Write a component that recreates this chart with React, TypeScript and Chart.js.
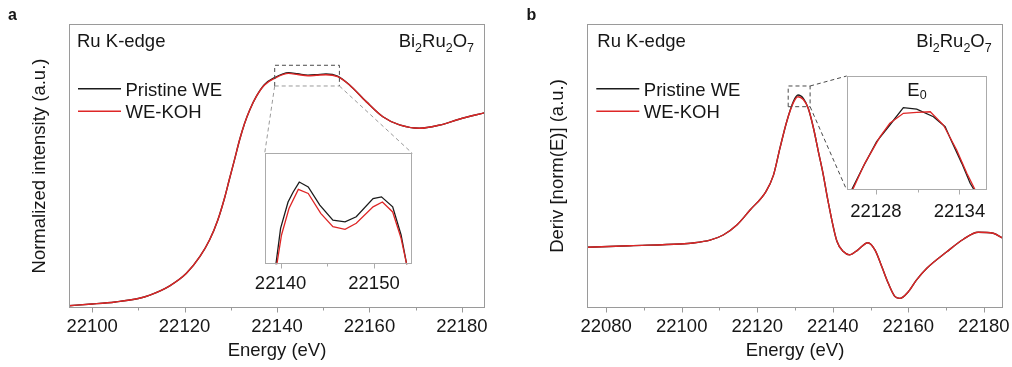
import React, { useEffect, useRef } from 'react';
import { Chart, registerables } from 'chart.js';

Chart.register(...registerables);

const FONT = '"Liberation Sans", Arial, Helvetica, sans-serif';
const TEXT = '#161616';
const BLACK = '#1c1c1c';
const RED = '#de2626';
const FRAME = '#9a9a9a';
const INSET_FRAME = '#ababab';

// ---------- shared labels ----------
const SERIES = ['Pristine WE', 'WE-KOH'];
const EDGE_LABEL = 'Ru K-edge';
const COMPOUND: [string, boolean][] = [['Bi', false], ['2', true], ['Ru', false], ['2', true], ['O', false], ['7', true]];
const X_TITLE = 'Energy (eV)';

// ---------- panel a: normalized XANES ----------
const XANES_E = [22095, 22100, 22105, 22110, 22112.5, 22116.8, 22120.4, 22123.3, 22125.4, 22127.2, 22128.7, 22129.7, 22130.8, 22131.9, 22133.0, 22134.1, 22135.5, 22137.3, 22139.5, 22142.5, 22144.5, 22146.7, 22148.5, 22150.6, 22153.1, 22155.7, 22159.3, 22162.9, 22166.5, 22170.8, 22175, 22179.4, 22185];
const XANES_PRISTINE = [0.012, 0.021, 0.032, 0.050, 0.068, 0.117, 0.183, 0.271, 0.359, 0.465, 0.585, 0.680, 0.782, 0.887, 0.976, 1.046, 1.116, 1.180, 1.217, 1.243, 1.237, 1.230, 1.232, 1.236, 1.225, 1.178, 1.090, 1.010, 0.967, 0.949, 0.965, 0.997, 1.032];
const XANES_KOH = [0.012, 0.021, 0.032, 0.050, 0.068, 0.117, 0.183, 0.271, 0.359, 0.465, 0.585, 0.680, 0.782, 0.887, 0.976, 1.046, 1.116, 1.178, 1.213, 1.239, 1.233, 1.227, 1.229, 1.232, 1.222, 1.178, 1.090, 1.010, 0.967, 0.949, 0.965, 0.997, 1.032];
const XANES_TICK_LABELS = [22100, 22120, 22140, 22160, 22180];
const XANES_MINOR_TICKS = [22110, 22130, 22150, 22170];
const XANES_Y_TITLE = 'Normalized intensity (a.u.)';

// inset a (white-line region)
const XANES_ZOOM_E_PRISTINE = [22139.2, 22139.5, 22140.0, 22140.8, 22141.35, 22142.0, 22142.96, 22144.2, 22145.6, 22146.9, 22148.1, 22149.9, 22150.8, 22152.0, 22152.9, 22153.5, 22153.8];
const XANES_ZOOM_PRISTINE = [1.195, 1.2100, 1.2226, 1.2319, 1.2354, 1.2389, 1.2372, 1.2308, 1.2255, 1.2249, 1.2267, 1.2331, 1.2337, 1.2302, 1.2203, 1.2100, 1.195];
const XANES_ZOOM_E_KOH = [22139.3, 22139.6, 22140.1, 22140.9, 22141.9, 22142.96, 22144.3, 22145.6, 22146.9, 22148.1, 22149.9, 22150.9, 22152.0, 22152.9, 22153.5, 22153.8];
const XANES_ZOOM_KOH = [1.195, 1.2100, 1.2203, 1.2296, 1.2363, 1.2349, 1.2279, 1.2232, 1.2223, 1.2244, 1.2302, 1.2319, 1.2284, 1.2191, 1.2100, 1.195];
const XANES_ZOOM_TICK_LABELS = [22140, 22150];
const XANES_ZOOM_MINOR_TICKS = [22145];

// ---------- panel b: first derivative ----------
const DERIV_E = [22075, 22086.3, 22099.5, 22103, 22107.5, 22111, 22114.6, 22118.1, 22122.3, 22124.3, 22126.0, 22127.8, 22129.6, 22130.8, 22132.2, 22133.5, 22134.9, 22136.2, 22137.5, 22138.7, 22141.1, 22142.9, 22144.4, 22146.6, 22149.3, 22151.2, 22153.0, 22154.7, 22156.5, 22157.8, 22160.0, 22162.2, 22164.9, 22170.2, 22174.6, 22178.5, 22182.5, 22185];
const DERIV_PRISTINE = [0.2137, 0.2194, 0.2254, 0.229, 0.239, 0.257, 0.292, 0.345, 0.410, 0.468, 0.562, 0.656, 0.728, 0.750, 0.738, 0.703, 0.633, 0.550, 0.468, 0.380, 0.235, 0.198, 0.187, 0.204, 0.230, 0.204, 0.145, 0.087, 0.040, 0.034, 0.057, 0.099, 0.140, 0.198, 0.242, 0.2665, 0.263, 0.246];
const DERIV_KOH = [0.2137, 0.2194, 0.2254, 0.229, 0.239, 0.257, 0.292, 0.345, 0.410, 0.468, 0.562, 0.656, 0.724, 0.744, 0.734, 0.703, 0.633, 0.550, 0.468, 0.380, 0.235, 0.198, 0.187, 0.204, 0.230, 0.204, 0.145, 0.087, 0.040, 0.034, 0.057, 0.099, 0.140, 0.198, 0.242, 0.2665, 0.263, 0.246];
const DERIV_TICK_LABELS = [22080, 22100, 22120, 22140, 22160, 22180];
const DERIV_MINOR_TICKS = [22090, 22110, 22130, 22150, 22170];
const DERIV_Y_TITLE = 'Deriv [norm(E)] (a.u.)';

// inset b (E0 region)
const DERIV_ZOOM_E_PRISTINE = [22126.0, 22126.25, 22127.09, 22128.05, 22129.0, 22129.97, 22130.93, 22132.13, 22132.97, 22133.45, 22134.17, 22134.77, 22135.06, 22135.3];
const DERIV_ZOOM_PRISTINE = [0.69, 0.70, 0.7164, 0.7339, 0.7456, 0.7578, 0.7568, 0.7514, 0.7444, 0.7339, 0.7187, 0.7047, 0.70, 0.69];
const DERIV_ZOOM_E_KOH = [22126.1, 22126.32, 22127.2, 22128.3, 22129.0, 22129.97, 22130.93, 22131.9, 22132.85, 22133.8, 22134.53, 22135.13, 22135.4];
const DERIV_ZOOM_KOH = [0.69, 0.70, 0.7187, 0.7375, 0.7468, 0.7538, 0.7545, 0.7549, 0.7456, 0.7281, 0.7117, 0.70, 0.69];
const DERIV_ZOOM_TICK_LABELS = [22128, 22134];
const DERIV_ZOOM_MINOR_TICKS = [22131];
const E0_LABEL = ['E', '0'];

// ---------- layout ----------
const W = 1012;
const H = 367;
const FS = 18.5;
const SUB = 12.5;

type Area = { left: number; top: number; right: number; bottom: number };
type Box = { x0: number; x1: number; y0: number; y1: number };

const toXY = (xs: number[], ys: number[]) => xs.map((x, i) => ({ x, y: ys[i] }));

const setTicks = (major: number[], minor: number[]) => (s: any) => {
  s.ticks = [...major, ...minor].sort((a, b) => a - b).map((v) => ({ value: v }));
};

const framePlugin = (color: string, major: number, minor: number) => ({
  id: 'frame',
  afterDraw(chart: any) {
    const { ctx, chartArea: a, scales } = chart;
    const x = scales.x;
    ctx.save();
    ctx.strokeStyle = color;
    ctx.lineWidth = 1;
    const l = Math.round(a.left) + 0.5, r = Math.round(a.right) - 0.5;
    const t = Math.round(a.top) + 0.5, b = Math.round(a.bottom) - 0.5;
    ctx.strokeRect(l, t, r - l, b - t);
    ctx.beginPath();
    for (const tk of x.ticks) {
      const px = Math.round(x.getPixelForValue(tk.value)) + 0.5;
      const len = tk.label !== '' ? major : minor;
      ctx.moveTo(px, b);
      ctx.lineTo(px, b + len);
    }
    ctx.stroke();
    ctx.restore();
  },
});

function drawCompound(ctx: CanvasRenderingContext2D, right: number, base: number) {
  const widths = COMPOUND.map(([s, sub]) => {
    ctx.font = `${sub ? SUB : FS}px ${FONT}`;
    return ctx.measureText(s).width;
  });
  let x = right - widths.reduce((p, c) => p + c, 0);
  COMPOUND.forEach(([s, sub], i) => {
    ctx.font = `${sub ? SUB : FS}px ${FONT}`;
    ctx.fillText(s, x, sub ? base + 5 : base);
    x += widths[i];
  });
}

type MainPanel = {
  canvasLeft: number;
  canvasWidth: number;
  area: Area;
  xMin: number;
  xMax: number;
  yMin: number;
  yMax: number;
  e: number[];
  pristine: number[];
  koh: number[];
  tickLabels: number[];
  minorTicks: number[];
  yTitle: string;
  yTitleCenter: number;
  letter: string;
  letterX: number;
  textDx: number;
  zoom: Box;
  inset: Area;
  links: [string, string][];
  boxColor: string;
  boxBottomColor: string;
  linkColor: string;
};

const corner = (c: string, r: { l: number; t: number; r: number; b: number }) => ({
  x: c[0] === 'l' ? r.l : r.r,
  y: c[1] === 't' ? r.t : r.b,
});

function mainConfig(p: MainPanel): any {
  const { area, canvasLeft, canvasWidth } = p;
  const annot = {
    id: 'annot',
    afterDraw(chart: any) {
      const { ctx, chartArea: a, scales } = chart;
      const { x, y } = scales;
      ctx.save();
      ctx.fillStyle = TEXT;
      ctx.textAlign = 'left';
      ctx.textBaseline = 'alphabetic';
      ctx.font = `${FS}px ${FONT}`;
      ctx.fillText(EDGE_LABEL, a.left + p.textDx, a.top + 22.7);
      drawCompound(ctx, a.right - 11, a.top + 22.7);
      // legend
      ctx.font = `${FS}px ${FONT}`;
      chart.data.datasets.forEach((ds: any, i: number) => {
        const ly = a.top + 64.8 + i * 22.5;
        ctx.strokeStyle = ds.borderColor;
        ctx.lineWidth = 1.4;
        ctx.beginPath();
        ctx.moveTo(a.left + 9, ly);
        ctx.lineTo(a.left + 52, ly);
        ctx.stroke();
        ctx.fillText(ds.label, a.left + 56.5, a.top + 71.8 + i * 22.5);
      });
      // panel letter
      ctx.font = `bold 16px ${FONT}`;
      ctx.fillText(p.letter, p.letterX - canvasLeft, 20);
      // zoom window
      const bx = {
        l: x.getPixelForValue(p.zoom.x0),
        r: x.getPixelForValue(p.zoom.x1),
        t: y.getPixelForValue(p.zoom.y1),
        b: y.getPixelForValue(p.zoom.y0),
      };
      const ins = { l: p.inset.left - canvasLeft, r: p.inset.right - canvasLeft, t: p.inset.top, b: p.inset.bottom };
      ctx.lineWidth = 1;
      ctx.setLineDash([4, 3]);
      ctx.strokeStyle = p.boxColor;
      ctx.beginPath();
      ctx.moveTo(bx.l, bx.b);
      ctx.lineTo(bx.l, bx.t);
      ctx.lineTo(bx.r, bx.t);
      ctx.lineTo(bx.r, bx.b);
      ctx.stroke();
      ctx.strokeStyle = p.boxBottomColor;
      ctx.beginPath();
      ctx.moveTo(bx.l, bx.b);
      ctx.lineTo(bx.r, bx.b);
      ctx.stroke();
      ctx.strokeStyle = p.linkColor;
      ctx.beginPath();
      for (const [c1, c2] of p.links) {
        const s = corner(c1, bx);
        const e = corner(c2, ins);
        ctx.moveTo(s.x, s.y);
        ctx.lineTo(e.x, e.y);
      }
      ctx.stroke();
      ctx.restore();
    },
  };
  const font = { family: FONT, size: FS };
  return {
    type: 'line',
    data: {
      datasets: [
        { label: SERIES[0], data: toXY(p.e, p.pristine), borderColor: BLACK, borderWidth: 1.4, pointRadius: 0, cubicInterpolationMode: 'monotone', order: 2 },
        { label: SERIES[1], data: toXY(p.e, p.koh), borderColor: RED, borderWidth: 1.4, pointRadius: 0, cubicInterpolationMode: 'monotone', order: 1 },
      ],
    },
    options: {
      responsive: false,
      maintainAspectRatio: false,
      animation: false,
      devicePixelRatio: 1,
      events: [],
      layout: { padding: { left: 0, top: area.top, right: canvasLeft + canvasWidth - area.right, bottom: 0 } },
      plugins: { legend: { display: false }, tooltip: { enabled: false } },
      scales: {
        x: {
          type: 'linear',
          min: p.xMin,
          max: p.xMax,
          grid: { display: false, drawTicks: false },
          border: { display: false },
          afterBuildTicks: setTicks(p.tickLabels, p.minorTicks),
          ticks: {
            autoSkip: false,
            maxRotation: 0,
            padding: 8,
            color: TEXT,
            font,
            callback: (v: number) => (p.tickLabels.includes(v) ? String(v) : ''),
          },
          title: { display: true, text: X_TITLE, color: TEXT, font, padding: { top: 0, bottom: 5 } },
          afterFit: (s: any) => {
            s.height = H - area.bottom;
            s.paddingLeft = 0;
            s.paddingRight = 0;
          },
        },
        y: {
          type: 'linear',
          min: p.yMin,
          max: p.yMax,
          grid: { display: false, drawTicks: false },
          border: { display: false },
          ticks: { display: false },
          title: { display: true, text: p.yTitle, color: TEXT, font, padding: { top: p.yTitleCenter - canvasLeft - (FS * 1.2) / 2, bottom: 0 } },
          afterFit: (s: any) => {
            s.width = area.left - canvasLeft;
            s.paddingTop = 0;
            s.paddingBottom = 0;
          },
        },
      },
    },
    plugins: [framePlugin(FRAME, 5, 3), annot],
  };
}

type InsetPanel = {
  canvas: Area;
  area: Area;
  xMin: number;
  xMax: number;
  yMin: number;
  yMax: number;
  ePristine: number[];
  pristine: number[];
  eKoh: number[];
  koh: number[];
  tickLabels: number[];
  minorTicks: number[];
  tickPad: number;
  title?: string[];
};

function insetConfig(p: InsetPanel): any {
  const { canvas, area } = p;
  const titlePlugin = {
    id: 'insetTitle',
    afterDraw(chart: any) {
      if (!p.title) return;
      const { ctx, chartArea: a } = chart;
      ctx.save();
      ctx.fillStyle = TEXT;
      ctx.textBaseline = 'alphabetic';
      ctx.textAlign = 'left';
      ctx.font = `${FS}px ${FONT}`;
      const w1 = ctx.measureText(p.title[0]).width;
      ctx.font = `${SUB}px ${FONT}`;
      const w2 = ctx.measureText(p.title[1]).width;
      const x0 = (a.left + a.right) / 2 - (w1 + w2) / 2;
      ctx.font = `${FS}px ${FONT}`;
      ctx.fillText(p.title[0], x0, a.top + 20);
      ctx.font = `${SUB}px ${FONT}`;
      ctx.fillText(p.title[1], x0 + w1, a.top + 23.3);
      ctx.restore();
    },
  };
  return {
    type: 'line',
    data: {
      datasets: [
        { label: SERIES[0], data: toXY(p.ePristine, p.pristine), borderColor: BLACK, borderWidth: 1.3, pointRadius: 0, tension: 0, order: 2 },
        { label: SERIES[1], data: toXY(p.eKoh, p.koh), borderColor: RED, borderWidth: 1.3, pointRadius: 0, tension: 0, order: 1 },
      ],
    },
    options: {
      responsive: false,
      maintainAspectRatio: false,
      animation: false,
      devicePixelRatio: 1,
      events: [],
      layout: {
        padding: {
          left: area.left - canvas.left,
          top: area.top - canvas.top,
          right: canvas.right - area.right,
          bottom: 0,
        },
      },
      plugins: { legend: { display: false }, tooltip: { enabled: false } },
      scales: {
        x: {
          type: 'linear',
          min: p.xMin,
          max: p.xMax,
          grid: { display: false, drawTicks: false },
          border: { display: false },
          afterBuildTicks: setTicks(p.tickLabels, p.minorTicks),
          ticks: {
            autoSkip: false,
            maxRotation: 0,
            padding: p.tickPad,
            color: TEXT,
            font: { family: FONT, size: FS },
            callback: (v: number) => (p.tickLabels.includes(v) ? String(v) : ''),
          },
          afterFit: (s: any) => {
            s.height = canvas.bottom - area.bottom;
            s.paddingLeft = 0;
            s.paddingRight = 0;
          },
        },
        y: { type: 'linear', display: false, min: p.yMin, max: p.yMax },
      },
    },
    plugins: [framePlugin(INSET_FRAME, 5, 3), titlePlugin],
  };
}

const INSET_A: Area = { left: 264.7, top: 153.3, right: 412.3, bottom: 264.3 };
const INSET_B: Area = { left: 846.7, top: 76, right: 987.3, bottom: 190 };

const PANEL_A: MainPanel = {
  canvasLeft: 0,
  canvasWidth: 500,
  area: { left: 69, top: 24, right: 485, bottom: 308 },
  xMin: 22095,
  xMax: 22185,
  yMin: 0,
  yMax: 1.5,
  e: XANES_E,
  pristine: XANES_PRISTINE,
  koh: XANES_KOH,
  tickLabels: XANES_TICK_LABELS,
  minorTicks: XANES_MINOR_TICKS,
  yTitle: XANES_Y_TITLE,
  yTitleCenter: 40,
  letter: 'a',
  letterX: 8,
  textDx: 8,
  zoom: { x0: 22139.5, x1: 22153.5, y0: 1.1726, y1: 1.282 },
  inset: INSET_A,
  links: [['lb', 'lt'], ['rb', 'rt']],
  boxColor: '#4a4a4a',
  boxBottomColor: '#9a9a9a',
  linkColor: '#9a9a9a',
};

const PANEL_B: MainPanel = {
  canvasLeft: 506,
  canvasWidth: 506,
  area: { left: 587.3, top: 24, right: 1002.7, bottom: 308 },
  xMin: 22075,
  xMax: 22185,
  yMin: 0,
  yMax: 1,
  e: DERIV_E,
  pristine: DERIV_PRISTINE,
  koh: DERIV_KOH,
  tickLabels: DERIV_TICK_LABELS,
  minorTicks: DERIV_MINOR_TICKS,
  yTitle: DERIV_Y_TITLE,
  yTitleCenter: 557.6,
  letter: 'b',
  letterX: 526.5,
  textDx: 10,
  zoom: { x0: 22128.2, x1: 22134.0, y0: 0.7088, y1: 0.7817 },
  inset: INSET_B,
  links: [['rt', 'lt'], ['rb', 'lb']],
  boxColor: '#4a4a4a',
  boxBottomColor: '#4a4a4a',
  linkColor: '#4a4a4a',
};

const ZOOM_A: InsetPanel = {
  canvas: { left: 248, top: 145, right: 425, bottom: 300 },
  area: INSET_A,
  xMin: 22138.3,
  xMax: 22154.1,
  yMin: 1.21,
  yMax: 1.249,
  ePristine: XANES_ZOOM_E_PRISTINE,
  pristine: XANES_ZOOM_PRISTINE,
  eKoh: XANES_ZOOM_E_KOH,
  koh: XANES_ZOOM_KOH,
  tickLabels: XANES_ZOOM_TICK_LABELS,
  minorTicks: XANES_ZOOM_MINOR_TICKS,
  tickPad: 8.2,
};

const ZOOM_B: InsetPanel = {
  canvas: { left: 835, top: 65, right: 1000, bottom: 230 },
  area: INSET_B,
  xMin: 22125.9,
  xMax: 22136.0,
  yMin: 0.70,
  yMax: 0.78,
  ePristine: DERIV_ZOOM_E_PRISTINE,
  pristine: DERIV_ZOOM_PRISTINE,
  eKoh: DERIV_ZOOM_E_KOH,
  koh: DERIV_ZOOM_KOH,
  tickLabels: DERIV_ZOOM_TICK_LABELS,
  minorTicks: DERIV_ZOOM_MINOR_TICKS,
  tickPad: 10.6,
  title: E0_LABEL,
};

function ChartCanvas({ left, top, width, height, make }: { left: number; top: number; width: number; height: number; make: () => any }) {
  const ref = useRef<HTMLCanvasElement>(null);
  useEffect(() => {
    const chart = new Chart(ref.current as HTMLCanvasElement, make());
    return () => chart.destroy();
  }, []);
  return (
    <canvas
      ref={ref}
      width={width}
      height={height}
      style={{ position: 'absolute', left, top, width, height, display: 'block' }}
    />
  );
}

export default function App() {
  return (
    <div style={{ position: 'absolute', left: 0, top: 0, width: W, height: H, background: '#ffffff', overflow: 'hidden' }}>
      <ChartCanvas left={PANEL_A.canvasLeft} top={0} width={PANEL_A.canvasWidth} height={H} make={() => mainConfig(PANEL_A)} />
      <ChartCanvas left={PANEL_B.canvasLeft} top={0} width={PANEL_B.canvasWidth} height={H} make={() => mainConfig(PANEL_B)} />
      <ChartCanvas
        left={ZOOM_A.canvas.left}
        top={ZOOM_A.canvas.top}
        width={ZOOM_A.canvas.right - ZOOM_A.canvas.left}
        height={ZOOM_A.canvas.bottom - ZOOM_A.canvas.top}
        make={() => insetConfig(ZOOM_A)}
      />
      <ChartCanvas
        left={ZOOM_B.canvas.left}
        top={ZOOM_B.canvas.top}
        width={ZOOM_B.canvas.right - ZOOM_B.canvas.left}
        height={ZOOM_B.canvas.bottom - ZOOM_B.canvas.top}
        make={() => insetConfig(ZOOM_B)}
      />
    </div>
  );
}
